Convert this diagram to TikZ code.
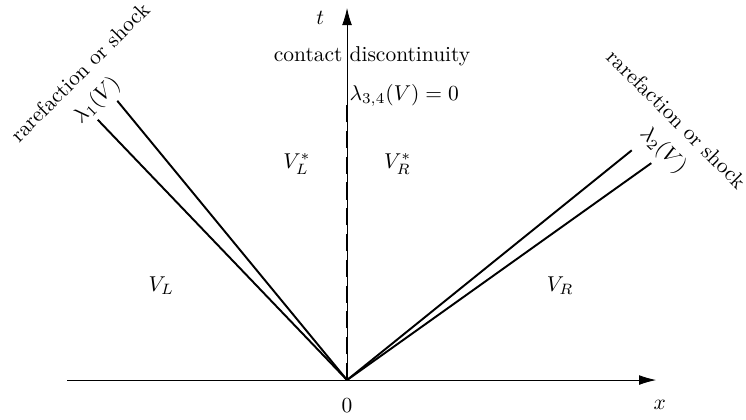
\documentclass[tikz,border=0pt]{standalone}
\usepackage{amsmath}
\usepackage{tikz}
\usetikzlibrary{arrows.meta,positioning,calc}

\begin{document}
\begin{tikzpicture}[
    axis/.style={thin, -{Latex[length=2.8mm,width=1.6mm]}},
    wave/.style={line width=0.9pt},
    contact/.style={line width=1pt, dash pattern=on 8pt off 4pt},
    lbl/.style={inner sep=1pt},
    slant/.style={inner sep=1pt, rotate=#1},
]
\useasboundingbox (-5.68,-0.64) rectangle (6.53,6.22);

\coordinate (O) at (0,0);
\coordinate (xa) at (-4.58,0);
\coordinate (xb) at (5.06,0);
\coordinate (tb) at (0,6.09);
\coordinate (ctop) at (0,4.5);

% wave ends
\coordinate (l1) at (-4.08,4.26);
\coordinate (l2) at (-3.76,4.57);
\coordinate (r1) at (4.66,3.76);
\coordinate (r2) at (4.98,3.55);

% axes
\draw[axis] (xa) -- (xb);
\draw[axis] (O) -- (tb);
\node[lbl] (xlbl) at (5.12,-0.41) {$x$};
\node[lbl] (tlbl) at (-0.44,5.92) {$t$};
\node[lbl] (zero) at (0,-0.41) {$0$};

% waves
\draw[wave] (O) -- (l1);
\draw[wave] (O) -- (l2);
\draw[wave] (O) -- (r1);
\draw[wave] (O) -- (r2);
\draw[contact] (O) -- (ctop);

% labels
\node[lbl] (cd) at (0.41,5.30) {contact discontinuity};
\node[lbl, anchor=west] (lam34) at (0,4.66) {$\lambda_{3,4}(V)=0$};
\node[slant=45] (rsl) at (-4.37,5.04) {rarefaction or shock};
\node[slant=45] (lam1) at (-4.09,4.57) {$\lambda_1(V)$};
\node[slant=-45] (rsr) at (5.40,4.27) {rarefaction or shock};
\node[slant=-45] (lam2) at (5.17,3.76) {$\lambda_2(V)$};

% states
\node[lbl] (vls) at (-0.82,3.54) {$V_L^*$};
\node[lbl] (vrs) at (0.83,3.54) {$V_R^*$};
\node[lbl] (vl) at (-3.04,1.55) {$V_L$};
\node[lbl] (vr) at (3.49,1.55) {$V_R$};

\end{tikzpicture}
\end{document}
